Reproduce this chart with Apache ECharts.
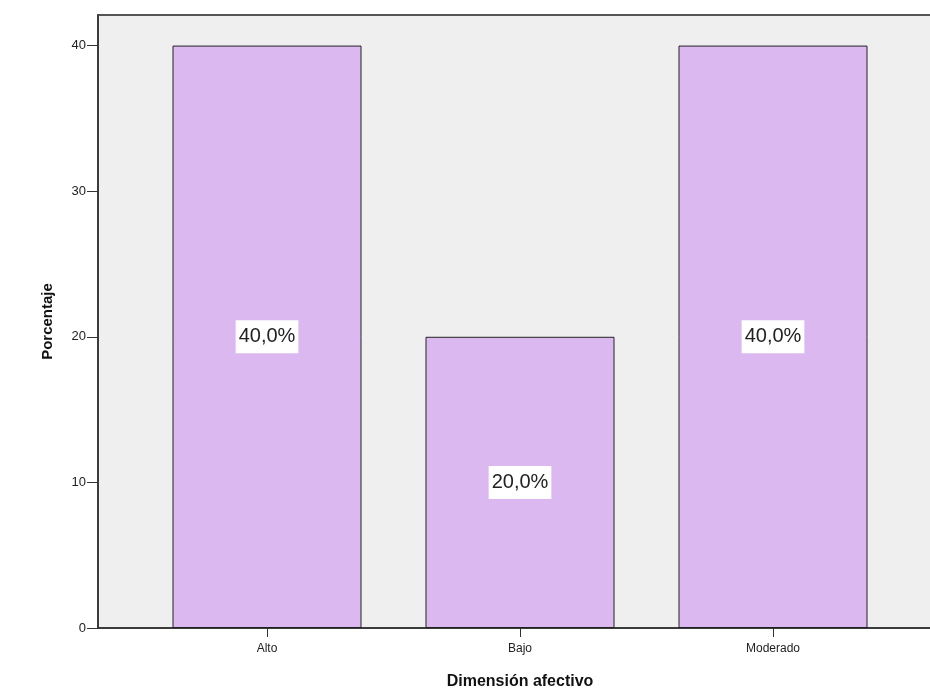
<!DOCTYPE html>
<html>
<head>
<meta charset="utf-8">
<script src="https://cdn.jsdelivr.net/npm/echarts@6/dist/echarts.min.js"></script>
<style>html,body{margin:0;padding:0;background:#fff}#c{width:930px;height:692px}</style>
</head>
<body>
<div id="c"></div>
<script>
const categories = ['Alto', 'Bajo', 'Moderado'];
const percentages = [40, 20, 40];
const yTicks = [0, 10, 20, 30, 40];
const xTitle = 'Dimensión afectivo';
const yTitle = 'Porcentaje';

const chart = echarts.init(document.getElementById('c'), null, {renderer: 'canvas'});
const font = 'Arial, "Liberation Sans", sans-serif';
const yMax = 42.1;
chart.setOption({
  animation: false,
  backgroundColor: '#ffffff',
  grid: [
    {left: 98, right: -6, top: 15, bottom: 64, show: true, backgroundColor: '#efefef', borderColor: '#555', borderWidth: 2, outerBoundsMode: 'none'},
    {left: 140.5, width: 759, top: 15, bottom: 64, outerBoundsMode: 'none'}
  ],
  xAxis: [
    {gridIndex: 0, type: 'value', min: 0, max: 1, axisLine: {show: true, lineStyle: {color: '#333', width: 1.5}}, axisTick: {show: false}, axisLabel: {show: false}, splitLine: {show: false}},
    {gridIndex: 1, type: 'category', data: categories, boundaryGap: true,
     axisLine: {show: false}, axisTick: {show: true, alignWithLabel: true, length: 9, lineStyle: {color: '#333'}},
     axisLabel: {color: '#222', fontSize: 12, fontFamily: font, margin: 15},
     name: xTitle, nameLocation: 'middle', nameGap: 46,
     nameTextStyle: {fontSize: 16, fontWeight: 'bold', color: '#111', fontFamily: font}}
  ],
  yAxis: [
    {gridIndex: 0, type: 'value', min: 0, max: yMax, interval: 10,
     axisLine: {show: true, lineStyle: {color: '#333', width: 1.5}},
     axisTick: {show: true, length: 11, customValues: yTicks, lineStyle: {color: '#333'}},
     axisLabel: {color: '#222', fontSize: 13, fontFamily: font, margin: 12, customValues: yTicks},
     splitLine: {show: false},
     name: yTitle, nameLocation: 'middle', nameGap: 43, nameRotate: 90,
     nameTextStyle: {fontSize: 15, fontWeight: 'bold', color: '#111', fontFamily: font}},
    {gridIndex: 1, type: 'value', min: 0, max: yMax, show: false}
  ],
  series: [{
    type: 'bar', xAxisIndex: 1, yAxisIndex: 1,
    data: percentages, barWidth: 189,
    itemStyle: {color: '#dcb8f1', borderColor: '#222', borderWidth: 1},
    label: {show: true, position: 'inside', color: '#222', fontSize: 20, fontFamily: font,
      backgroundColor: '#ffffff', padding: [7, 3, 6, 3],
      formatter: p => p.value.toFixed(1).replace('.', ',') + '%'}
  }]
});
</script>
</body>
</html>
